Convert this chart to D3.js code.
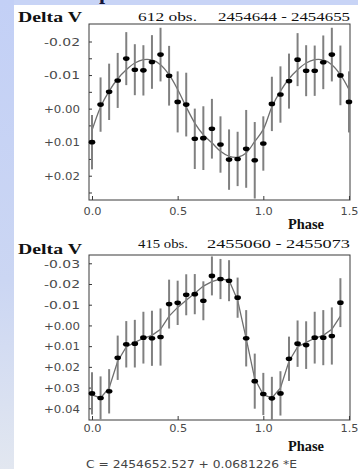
<!DOCTYPE html>
<html><head><meta charset="utf-8">
<script src="https://cdn.jsdelivr.net/npm/d3@7"></script>
<style>html,body{margin:0;padding:0;background:#fff;overflow:hidden}</style>
</head><body><svg id="c" width="358" height="469"></svg>
<script>
// ---------- data ----------
const phaseTop = [0,0.05,0.1,0.15,0.2,0.25,0.3,0.35,0.4,0.45,0.5,0.55,0.6,0.65,0.7,0.75,0.8,0.85,0.9,0.95,1.0,1.05,1.1,1.15,1.2,1.25,1.3,1.35,1.4,1.45,1.5];
const magTop = [0.0100,-0.0012,-0.0050,-0.0084,-0.0149,-0.0116,-0.0114,-0.0139,-0.0161,-0.0098,-0.0020,-0.0012,0.0090,0.0088,0.0060,0.0107,0.0152,0.0150,0.0120,0.0154,0.0104,-0.0014,-0.0042,-0.0082,-0.0146,-0.0113,-0.0113,-0.0138,-0.0161,-0.0099,-0.0020];
const errTop = [0.0081,0.0081,0.0084,0.0082,0.0079,0.0076,0.0075,0.0080,0.0080,0.0089,0.0091,0.0095,0.0090,0.0095,0.0089,0.0084,0.0090,0.0081,0.0116,0.0114,0.0081,0.0081,0.0084,0.0082,0.0079,0.0076,0.0075,0.0080,0.0080,0.0089,0.0091];
const fitPhaseTop = [0,0.05,0.1,0.15,0.2,0.25,0.3,0.35,0.4,0.45,0.5,0.55,0.6,0.65,0.7,0.75,0.8,0.85,0.9,0.95,1.0,1.05,1.1,1.15,1.2,1.25,1.3,1.35,1.4,1.45,1.5];
const fitTop = [0.0065,-0.0005,-0.0052,-0.0089,-0.0116,-0.0136,-0.0146,-0.0145,-0.0131,-0.0101,-0.0057,-0.0005,0.0043,0.0078,0.0102,0.0127,0.0142,0.0145,0.0132,0.0098,0.0062,-0.0005,-0.0052,-0.0089,-0.0116,-0.0136,-0.0146,-0.0145,-0.0131,-0.0101,-0.0057];

const phaseBot = [0,0.05,0.1,0.15,0.2,0.25,0.3,0.35,0.4,0.45,0.5,0.55,0.6,0.65,0.7,0.75,0.8,0.85,0.9,0.95,1.0,1.05,1.1,1.15,1.2,1.25,1.3,1.35,1.4,1.45];
const magBot = [0.0328,0.0350,0.0318,0.0156,0.0091,0.0088,0.0059,0.0062,0.0056,-0.0103,-0.0109,-0.0148,-0.0151,-0.0119,-0.0239,-0.0224,-0.0216,-0.0134,0.0062,0.0269,0.0331,0.0352,0.0328,0.0161,0.0088,0.0095,0.0059,0.0059,0.0051,-0.0110];
const errBot = [0.0102,0.0104,0.0107,0.0107,0.0112,0.0115,0.0125,0.0133,0.0138,0.0118,0.0107,0.0099,0.0097,0.0094,0.0094,0.0097,0.0099,0.0097,0.0136,0.0133,0.0102,0.0104,0.0107,0.0107,0.0112,0.0115,0.0125,0.0133,0.0138,0.0118];
const fitPhaseBot = [0,0.05,0.1,0.15,0.2,0.25,0.3,0.35,0.4,0.45,0.5,0.55,0.6,0.65,0.7,0.75,0.8,0.85,0.9,0.95,1.0,1.05,1.1,1.15,1.2,1.25,1.3,1.35,1.4,1.45];
const fitBot = [0.0335,0.0350,0.0302,0.0173,0.0104,0.0082,0.0062,0.0048,0.0019,-0.0045,-0.0087,-0.0122,-0.0155,-0.0190,-0.0211,-0.0225,-0.0218,-0.0122,0.0064,0.0258,0.0335,0.0350,0.0302,0.0173,0.0104,0.0082,0.0062,0.0048,0.0019,-0.0045];

const yTicksTop = [-0.02,-0.01,0,0.01,0.02];
const yLabelsTop = ["-0.02","-0.01","+0.00","+0.01","+0.02"];
const yMinorTop = [-0.02,-0.015,-0.01,-0.005,0,0.005,0.01,0.015,0.02,0.025];
const yTicksBot = [-0.03,-0.02,-0.01,0,0.01,0.02,0.03,0.04];
const yLabelsBot = ["-0.03","-0.02","-0.01","+0.00","+0.01","+0.02","+0.03","+0.04"];
const xTicks = [0,0.5,1.0,1.5];
const xLabels = ["0.0","0.5","1.0","1.5"];

const titleTop = {label:"Delta V", obs:"612 obs.", range:"2454644 - 2454655"};
const titleBot = {label:"Delta V", obs:"415 obs.", range:"2455060 - 2455073"};
const xTitle = "Phase";
const formula = "C = 2454652.527 + 0.0681226 *E";

// ---------- drawing ----------
const svg = d3.select("#c");
const W = 358, H = 469;
const defs = svg.append("defs");
const g1 = defs.append("linearGradient").attr("id","side").attr("x1",0).attr("y1",0).attr("x2",0).attr("y2",1);
g1.append("stop").attr("offset","0%").attr("stop-color","#c3d0f6");
g1.append("stop").attr("offset","60%").attr("stop-color","#cbd6f3");
g1.append("stop").attr("offset","100%").attr("stop-color","#e2e7f0");

svg.append("rect").attr("width",W).attr("height",H).attr("fill","#c8d4f6");
svg.append("rect").attr("x",0).attr("y",0).attr("width",14).attr("height",H).attr("fill","url(#side)");
svg.append("rect").attr("x",14).attr("y",5).attr("width",W-14).attr("height",H-5).attr("fill","#ffffff");
// descender of cut-off heading glyph at very top
svg.append("text").attr("x",99).attr("y",-1).attr("font-family","Liberation Serif").attr("font-weight","bold")
  .attr("font-size",22).attr("fill","#15153a").text("p");

const serif = "Liberation Serif, Times New Roman, serif";
const sans = "DejaVu Sans, Liberation Sans, Arial, sans-serif";

const x = d3.scaleLinear().domain([-0.0175,1.506]).range([89,350]);

function panel(cfg){
  const y = d3.scaleLinear().domain(cfg.domain).range([cfg.top,cfg.bottom]);
  const G = svg.append("g");
  // frame
  G.append("rect").attr("x",x.range()[0]).attr("y",cfg.top)
    .attr("width",x.range()[1]-x.range()[0]).attr("height",cfg.bottom-cfg.top)
    .attr("fill","none").attr("stroke","#3a3a3a").attr("stroke-width",1);
  // y axis (inward ticks)
  const ya = G.append("g").attr("transform",`translate(${x.range()[0]},0)`)
    .call(d3.axisLeft(y).tickValues(cfg.yMinor).tickSizeInner(-3).tickSizeOuter(0).tickFormat(""));
  ya.select(".domain").remove();
  ya.selectAll("line").attr("stroke","#3a3a3a");
  const yl = G.append("g").attr("transform",`translate(${x.range()[0]},0)`)
    .call(d3.axisLeft(y).tickValues(cfg.yTicks).tickSizeInner(0).tickSizeOuter(0).tickPadding(9)
      .tickFormat((d,i)=>cfg.yLabels[i]));
  yl.select(".domain").remove();
  yl.selectAll("text").attr("font-family",sans).attr("font-size",10.5).attr("font-weight","normal").attr("fill","#4a4a4a")
    .attr("dy","0.36em").attr("textLength",36).attr("lengthAdjust","spacingAndGlyphs");
  // x axis
  const xa = G.append("g").attr("transform",`translate(0,${cfg.bottom})`)
    .call(d3.axisBottom(x).tickValues(xTicks).tickSizeInner(-4).tickSizeOuter(0).tickPadding(cfg.xPad)
      .tickFormat((d,i)=>xLabels[i]));
  xa.select(".domain").remove();
  xa.selectAll("line").attr("stroke","#3a3a3a");
  xa.selectAll("text").attr("font-family",sans).attr("font-size",10.5).attr("fill","#4a4a4a")
    .attr("textLength",18).attr("lengthAdjust","spacingAndGlyphs");
  // fit curve
  const fit = cfg.fitPhase.map((p,i)=>[p,cfg.fit[i]]);
  G.append("path").datum(fit)
    .attr("d",d3.line().x(d=>x(d[0])).y(d=>y(d[1])).curve(cfg.curve))
    .attr("fill","none").attr("stroke","#6e6e6e").attr("stroke-width",1.3);
  // error bars
  const pts = cfg.phase.map((p,i)=>({p,m:cfg.mag[i],e:cfg.err[i]}));
  G.selectAll(".eb").data(pts).enter().append("line")
    .attr("x1",d=>x(d.p)).attr("x2",d=>x(d.p))
    .attr("y1",d=>y(d.m-d.e)).attr("y2",d=>y(d.m+d.e))
    .attr("stroke","#808080").attr("stroke-width",2);
  // points
  G.selectAll(".pt").data(pts).enter().append("ellipse")
    .attr("cx",d=>x(d.p)).attr("cy",d=>y(d.m)).attr("rx",3.3).attr("ry",2.3).attr("fill","#000");
  // titles
  const t = cfg.title;
  G.append("text").attr("x",18).attr("y",cfg.hLabelY).attr("font-family",serif).attr("font-weight","bold")
    .attr("font-size",15).attr("fill","#111").attr("textLength",64).attr("lengthAdjust","spacingAndGlyphs").text(t.label);
  G.append("text").attr("x",138).attr("y",cfg.hObsY).attr("font-family",serif)
    .attr("font-size",13).attr("fill","#111").attr("textLength",cfg.obsW).attr("lengthAdjust","spacingAndGlyphs").text(t.obs);
  G.append("text").attr("x",cfg.rangeX).attr("y",cfg.hObsY).attr("font-family",serif)
    .attr("font-size",13).attr("fill","#111").attr("textLength",350-cfg.rangeX).attr("lengthAdjust","spacingAndGlyphs").text(t.range);
  G.append("text").attr("x",288).attr("y",cfg.phaseY).attr("font-family",serif).attr("font-weight","bold")
    .attr("font-size",14).attr("fill","#111").attr("textLength",36).attr("lengthAdjust","spacingAndGlyphs").text(xTitle);
}

panel({top:24,bottom:200,domain:[-0.02522,0.02724],yTicks:yTicksTop,yLabels:yLabelsTop,yMinor:yMinorTop,
  phase:phaseTop,mag:magTop,err:errTop,fitPhase:fitPhaseTop,fit:fitTop,curve:d3.curveCatmullRom,
  xPad:8,title:titleTop,hLabelY:21.5,hObsY:20.5,obsW:59,rangeX:218,phaseY:229});
panel({top:255,bottom:420,domain:[-0.0340,0.04565],yTicks:yTicksBot,yLabels:yLabelsBot,yMinor:yTicksBot,
  phase:phaseBot,mag:magBot,err:errBot,fitPhase:fitPhaseBot,fit:fitBot,curve:d3.curveLinear,
  xPad:5,title:titleBot,hLabelY:253.5,hObsY:248,obsW:50,rangeX:207,phaseY:451});

svg.append("text").attr("x",86).attr("y",468).attr("font-family",sans).attr("font-size",10.5)
  .attr("fill","#444").attr("textLength",211).attr("lengthAdjust","spacingAndGlyphs").text(formula);
</script></body></html>
